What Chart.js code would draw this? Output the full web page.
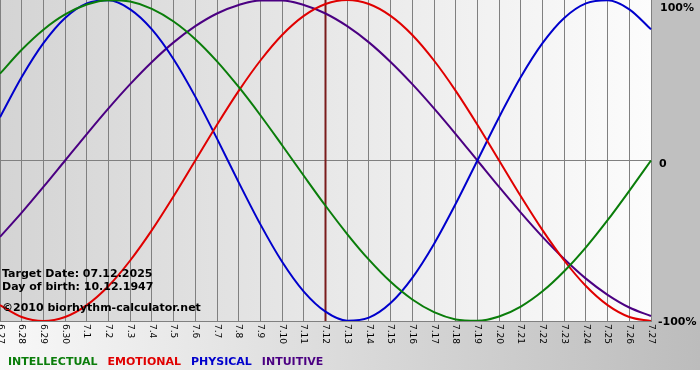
<!DOCTYPE html>
<html>
<head>
<meta charset="utf-8">
<script src="https://cdn.jsdelivr.net/npm/chart.js@4/dist/chart.umd.min.js"></script>
<style>
  html, body { margin: 0; padding: 0; background: #fff; }
  #wrap { width: 700px; height: 380px; }
</style>
</head>
<body>
<div id="wrap"><canvas id="chart-bio" width="700" height="380"></canvas></div>
<script>
const days = ['6.27', '6.28', '6.29', '6.30', '7.1', '7.2', '7.3', '7.4', '7.5', '7.6', '7.7',
  '7.8', '7.9', '7.10', '7.11', '7.12', '7.13', '7.14', '7.15', '7.16', '7.17', '7.18', '7.19',
  '7.20', '7.21', '7.22', '7.23', '7.24', '7.25', '7.26', '7.27'];

const intellectual = [54.1, 69.0, 81.5, 91.0, 97.2, 99.9, 99.0, 94.5, 86.6, 75.6, 61.8, 45.8,
  28.2, 9.5, -9.5, -28.2, -45.8, -61.8, -75.6, -86.6, -94.5, -99.0, -99.9, -97.2, -91.0,
  -81.5, -69.0, -54.1, -37.2, -18.9, 0];
const emotional = [-90.1, -97.5, -100, -97.5, -90.1, -78.2, -62.3, -43.4, -22.3, 0, 22.3,
  43.4, 62.3, 78.2, 90.1, 97.5, 100, 97.5, 90.1, 78.2, 62.3, 43.4, 22.3, 0, -22.3, -43.4,
  -62.3, -78.2, -90.1, -97.5, -100];
const physical = [27.0, 52.0, 73.1, 88.8, 97.9, 99.8, 94.2, 81.7, 63.1, 39.8, 13.6, -13.6,
  -39.8, -63.1, -81.7, -94.2, -99.8, -97.9, -88.8, -73.1, -52.0, -27.0, 0, 27.0, 52.0, 73.1,
  88.8, 97.9, 99.8, 94.2, 81.7];
const intuitive = [-47.6, -32.5, -16.5, 0, 16.5, 32.5, 47.6, 61.4, 73.6, 83.7, 91.6, 96.9,
  99.7, 99.7, 96.9, 91.6, 83.7, 73.6, 61.4, 47.6, 32.5, 16.5, 0, -16.5, -32.5, -47.6, -61.4,
  -73.6, -83.7, -91.6, -96.9];

const yTicks = ['-100%', '0', '100%'];
const targetDay = '7.12';
const infoLines = ['Target Date: 07.12.2025', 'Day of birth: 10.12.1947', '\u00a92010 biorhythm-calculator.net'];

const BOLD = 'bold 11px "DejaVu Sans", Verdana, sans-serif';

// backgrounds, target line and all the text around the plot
const decor = {
  id: 'decor',
  beforeDraw(chart) {
    const { ctx, chartArea: a, width } = chart;
    ctx.save();
    ctx.fillStyle = '#fff';
    ctx.fillRect(0, 0, width, chart.height);
    let g = ctx.createLinearGradient(0, 0, width, 0);
    g.addColorStop(0, '#f8f8f8');
    g.addColorStop(1, '#bcbcbc');
    ctx.fillStyle = g;
    ctx.fillRect(0, a.bottom, width, 370 - a.bottom);
    ctx.fillStyle = '#c0c0c0';
    ctx.fillRect(a.right, 0, width - a.right, a.bottom);
    g = ctx.createLinearGradient(a.left, 0, a.right, 0);
    g.addColorStop(0, '#d4d4d4');
    g.addColorStop(1, '#fcfcfc');
    ctx.fillStyle = g;
    ctx.fillRect(a.left, a.top, a.right - a.left, a.bottom - a.top);
    ctx.restore();
  },
  beforeDatasetsDraw(chart) {
    const { ctx, chartArea: a, scales: { x } } = chart;
    const px = x.getPixelForValue(days.indexOf(targetDay));
    ctx.save();
    ctx.strokeStyle = '#7a1c1c';
    ctx.lineWidth = 2;
    ctx.beginPath();
    ctx.moveTo(px, a.top);
    ctx.lineTo(px, a.bottom);
    ctx.stroke();
    ctx.restore();
  },
  afterDraw(chart) {
    const { ctx, chartArea: a, scales: { x, y } } = chart;
    ctx.save();
    // day labels, rotated clockwise
    ctx.fillStyle = '#000';
    ctx.font = '9px "DejaVu Sans", Verdana, sans-serif';
    ctx.textAlign = 'left';
    ctx.textBaseline = 'middle';
    days.forEach((d, i) => {
      ctx.save();
      ctx.translate(x.getPixelForValue(i), a.bottom + 3);
      ctx.rotate(Math.PI / 2);
      ctx.fillText(d, 0, 0);
      ctx.restore();
    });
    // percent labels at the right
    ctx.font = BOLD;
    ctx.textBaseline = 'alphabetic';
    ctx.fillText(yTicks[2], a.right + 9, y.getPixelForValue(100) + 11);
    ctx.fillText(yTicks[1], a.right + 8, y.getPixelForValue(0) + 6);
    ctx.fillText(yTicks[0], a.right + 7, y.getPixelForValue(-100) + 4);
    // info block
    ctx.fillText(infoLines[0], 2, 277);
    ctx.fillText(infoLines[1], 2, 290);
    ctx.fillText(infoLines[2], 2, 311);
    // legend
    let lx = 8;
    chart.data.datasets.forEach((ds) => {
      ctx.fillStyle = ds.borderColor;
      ctx.fillText(ds.label, lx, 365);
      lx += ctx.measureText(ds.label).width + 10;
    });
    ctx.restore();
  }
};

const ctx = document.getElementById('chart-bio').getContext('2d');
const line = (label, data, color) => ({
  label, data, borderColor: color, borderWidth: 2, pointRadius: 0,
  cubicInterpolationMode: 'monotone', borderJoinStyle: 'round', fill: false
});

new Chart(ctx, {
  type: 'line',
  data: {
    labels: days,
    datasets: [
      line('INTELLECTUAL', intellectual, '#0a7d0a'),
      line('EMOTIONAL', emotional, '#e00000'),
      line('PHYSICAL', physical, '#0000cc'),
      line('INTUITIVE', intuitive, '#4b0082')
    ]
  },
  options: {
    responsive: false,
    animation: false,
    layout: { padding: { left: 0, top: 0, right: 49, bottom: 59 } },
    plugins: { legend: { display: false }, tooltip: { enabled: false } },
    scales: {
      x: {
        offset: false,
        ticks: { display: false },
        grid: { color: '#808080', lineWidth: 1, drawTicks: false },
        border: { color: '#808080' }
      },
      y: {
        min: -100, max: 100,
        ticks: { display: false, stepSize: 100 },
        grid: { drawTicks: false, color: (c) => (c.tick && c.tick.value === 0 ? '#808080' : 'rgba(0,0,0,0)') },
        border: { display: false }
      }
    }
  },
  plugins: [decor]
});
</script>
</body>
</html>
